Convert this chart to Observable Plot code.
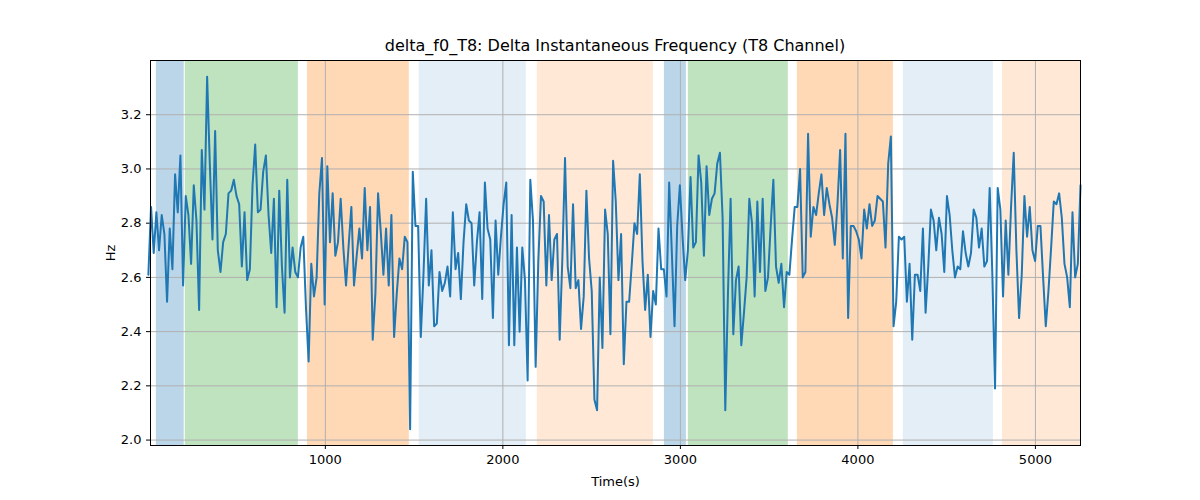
<!DOCTYPE html>
<html><head><meta charset="utf-8">
<script src="https://cdn.jsdelivr.net/npm/d3@7"></script>
<script src="https://cdn.jsdelivr.net/npm/@observablehq/plot@0.6"></script>
<style>
body{margin:0;background:#fff;font-family:"DejaVu Sans",sans-serif;}
#wrap{position:relative;width:1200px;height:500px;}
#title{position:absolute;top:36px;left:150px;width:930px;text-align:center;font-size:16px;color:#000;}
</style></head><body>
<div id="wrap"><div id="title">delta_f0_T8: Delta Instantaneous Frequency (T8 Channel)</div><div id="chart"></div></div>
<script>
const tStart = 3, tEnd = 5254;
const values = [
2.61,2.86,2.69,2.84,2.70,2.83,2.76,2.51,2.78,2.63,2.98,2.84,3.05,2.57,2.90,2.83,2.65,2.94,2.81,2.48,3.07,2.85,3.34,3.02,2.74,3.14,2.70,2.62,2.73,2.76,2.91,2.92,2.96,2.90,2.87,2.64,2.84,2.59,2.63,2.94,3.09,2.84,2.85,2.99,3.05,2.83,2.69,2.89,2.49,2.92,2.64,2.47,2.96,2.60,2.71,2.62,2.60,2.71,2.75,2.49,2.29,2.65,2.53,2.60,2.91,3.04,2.50,3.01,2.73,2.91,2.68,2.73,2.89,2.71,2.57,2.72,2.86,2.57,2.68,2.78,2.67,2.93,2.70,2.86,2.37,2.54,2.91,2.77,2.61,2.78,
2.57,2.83,2.38,2.54,2.67,2.63,2.75,2.73,2.04,2.99,2.79,2.79,2.38,2.61,2.89,2.57,2.70,2.42,2.43,2.62,2.55,2.58,2.64,2.53,2.84,2.63,2.69,2.52,2.73,2.87,2.81,2.80,2.57,2.73,2.84,2.52,2.95,2.78,2.74,2.45,2.81,2.61,2.75,2.87,2.95,2.35,2.83,2.35,2.71,2.40,2.71,2.59,2.22,2.96,2.81,2.27,2.66,2.90,2.88,2.57,2.83,2.59,2.74,2.76,2.37,2.67,3.04,2.64,2.56,2.87,2.56,2.59,2.41,2.53,2.92,2.67,2.55,2.15,2.11,2.60,2.34,2.85,2.76,2.39,3.03,2.88,2.59,
2.76,2.28,2.51,2.51,2.65,2.80,2.76,2.98,2.66,2.48,2.61,2.38,2.55,2.50,2.78,2.63,2.63,2.53,2.95,2.69,2.42,2.79,2.94,2.75,2.59,2.70,2.97,2.71,2.73,3.05,2.95,2.68,3.01,2.83,2.89,2.91,3.02,3.06,2.82,2.11,2.54,2.89,2.39,2.59,2.64,2.35,2.47,2.60,2.89,2.80,2.53,2.88,2.62,2.89,2.55,2.60,2.79,2.96,2.64,2.58,2.65,2.49,2.62,2.61,2.74,2.86,2.86,3.00,2.60,2.62,3.13,2.75,2.86,2.83,2.91,2.98,2.83,2.93,2.87,2.82,2.72,2.87,3.07,2.67,3.13,2.45,
2.79,2.79,2.77,2.74,2.67,2.85,2.78,2.87,2.79,2.81,2.90,2.89,2.88,2.71,3.02,3.12,2.42,2.51,2.75,2.74,2.75,2.51,2.65,2.37,2.61,2.61,2.55,2.78,2.47,2.64,2.85,2.81,2.70,2.82,2.76,2.62,2.90,2.83,2.70,2.60,2.64,2.63,2.77,2.69,2.64,2.69,2.85,2.82,2.71,2.78,2.64,2.66,2.93,2.61,2.19,2.93,2.85,2.53,2.81,2.61,2.86,3.06,2.70,2.45,2.61,2.90,2.75,2.86,2.70,2.66,2.79,2.79,2.60,2.42,2.55,2.71,2.88,2.87,2.91,2.82,2.65,2.60,2.49,2.84,2.60,2.65,2.94
];
const spanStart = [48,211,899,1529,2194,2910,3045,3659,4256,4814];
const spanEnd   = [205,848,1473,2132,2848,3034,3608,4200,4763,5254];
const spanColor = ["#1f77b4","#2ca02c","#ff7f0e","#1f77b4","#ff7f0e","#1f77b4","#2ca02c","#ff7f0e","#1f77b4","#ff7f0e"];
const spanAlpha = [0.3,0.3,0.3,0.12,0.17,0.3,0.3,0.3,0.12,0.17];
const xTicks = [1000,2000,3000,4000,5000];
const yTicks = [2.0,2.2,2.4,2.6,2.8,3.0,3.2];

const step = (tEnd - tStart) / (values.length - 1);
const data = values.map((v, i) => ({t: tStart + i * step, v}));
const spans = spanStart.map((s, i) => ({x1: s, x2: spanEnd[i], c: spanColor[i], a: spanAlpha[i]}));

const chart = Plot.plot({
  width: 1200, height: 500,
  marginTop: 60, marginBottom: 55, marginLeft: 150, marginRight: 120,
  style: {fontFamily: "DejaVu Sans, sans-serif", fontSize: "13px", color: "#000", background: "#fff"},
  x: {domain: [15, 5254], ticks: xTicks, tickFormat: d => String(d), label: "Time(s)", labelArrow: "none", labelAnchor: "center", labelOffset: 40, tickSize: 4},
  y: {domain: [1.98, 3.40], ticks: yTicks, tickFormat: d => d.toFixed(1), label: "Hz", labelArrow: "none", labelAnchor: "center", labelOffset: 45, tickSize: 4},
  marks: [
    Plot.rectY(spans, {x1: "x1", x2: "x2", y1: 1.98, y2: 3.40, fill: "c", fillOpacity: "a"}),
    Plot.gridX(xTicks, {stroke: "#b0b0b0", strokeOpacity: 1, strokeWidth: 1}),
    Plot.gridY(yTicks, {stroke: "#b0b0b0", strokeOpacity: 1, strokeWidth: 1}),
    Plot.line(data, {x: "t", y: "v", stroke: "#1f77b4", strokeWidth: 2}),
    Plot.frame({stroke: "#000"})
  ]
});
document.getElementById("chart").appendChild(chart);
</script></body></html>
